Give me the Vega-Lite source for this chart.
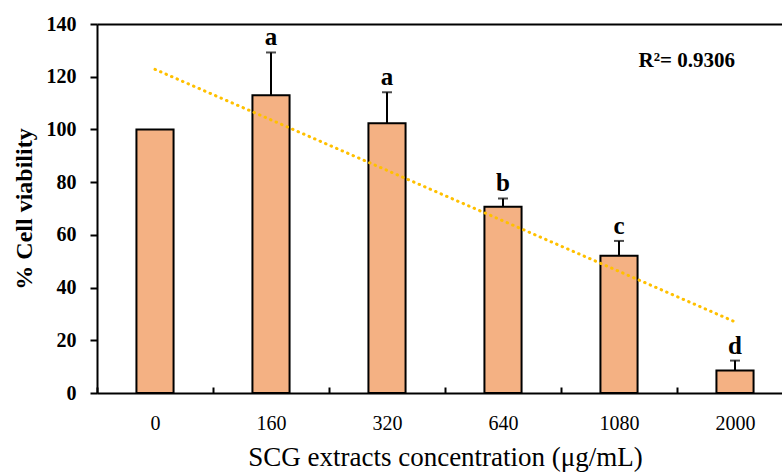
{
  "$schema": "https://vega.github.io/schema/vega-lite/v6.json",
  "width": 685,
  "height": 369,
  "autosize": {"type": "none"},
  "padding": {"left": 97, "top": 24, "right": 0, "bottom": 80},
  "background": "white",
  "config": {"view": {"stroke": null}, "font": "Liberation Serif"},
  "datasets": {
    "bars": [
      {"conc": "0", "value": 100, "hi": null, "letter": ""},
      {"conc": "160", "value": 113, "hi": 129.2, "letter": "a"},
      {"conc": "320", "value": 102.3, "hi": 114.1, "letter": "a"},
      {"conc": "640", "value": 70.7, "hi": 73.8, "letter": "b"},
      {"conc": "1080", "value": 52.1, "hi": 57.7, "letter": "c"},
      {"conc": "2000", "value": 8.5, "hi": 12.3, "letter": "d"}
    ],
    "trend": [
      {"conc": "0", "trend": 122.8},
      {"conc": "2000", "trend": 27.0}
    ],
    "note": [
      {"conc": "2000", "y": 123.7, "label": "R²= 0.9306"}
    ]
  },
  "resolve": {"axis": {"x": "independent"}},
  "layer": [
    {
      "data": {"name": "bars"},
      "mark": {"type": "bar", "fill": "#F4B183", "stroke": "black", "strokeWidth": 2, "width": {"band": 0.32}},
      "encoding": {
        "x": {
          "field": "conc", "type": "nominal", "sort": null,
          "scale": {"domain": ["0", "160", "320", "640", "1080", "2000"], "range": [0, 696], "paddingInner": 0, "paddingOuter": 0},
          "axis": {
            "orient": "bottom", "title": "SCG extracts concentration (μg/mL)", "labelAngle": 0,
            "domainColor": "black", "domainWidth": 2, "tickColor": "black", "tickWidth": 2,
            "tickSize": -6, "tickBand": "extent",
            "labelFont": "Liberation Serif", "labelFontSize": 20, "labelColor": "black", "labelPadding": 26,
            "titleFont": "Liberation Serif", "titleFontSize": 27, "titleFontWeight": "normal", "titleColor": "black", "titlePadding": 11
          }
        },
        "y": {
          "field": "value", "type": "quantitative",
          "scale": {"domain": [0, 140], "nice": false},
          "axis": {
            "orient": "left",
            "title": "% Cell viability", "values": [0, 20, 40, 60, 80, 100, 120, 140], "grid": false,
            "domainColor": "black", "domainWidth": 2, "tickColor": "black", "tickWidth": 2, "tickSize": 7,
            "labelFont": "Liberation Serif", "labelFontSize": 20, "labelFontWeight": "bold", "labelColor": "black", "labelPadding": 14,
            "titleFont": "Liberation Serif", "titleFontSize": 24, "titleFontWeight": "bold", "titleColor": "black", "titlePadding": 10
          }
        }
      }
    },
    {
      "data": {"name": "bars"},
      "transform": [{"filter": "datum.hi != null"}],
      "mark": {"type": "rule", "color": "black", "strokeWidth": 2},
      "encoding": {
        "x": {"field": "conc", "type": "nominal", "sort": null, "axis": null},
        "y": {"field": "value", "type": "quantitative"},
        "y2": {"field": "hi"}
      }
    },
    {
      "data": {"name": "bars"},
      "transform": [{"filter": "datum.hi != null"}],
      "mark": {"type": "tick", "color": "black", "size": 10, "thickness": 2},
      "encoding": {
        "x": {"field": "conc", "type": "nominal", "sort": null,
          "axis": {"orient": "top", "labels": false, "ticks": false, "title": null, "domainColor": "black", "domainWidth": 2}},
        "y": {"field": "hi", "type": "quantitative"}
      }
    },
    {
      "data": {"name": "trend"},
      "mark": {"type": "line", "color": "#FFC000", "strokeWidth": 3, "strokeDash": [0.5, 5.5], "strokeCap": "round"},
      "encoding": {
        "x": {"field": "conc", "type": "nominal", "sort": null, "axis": null},
        "y": {"field": "trend", "type": "quantitative"}
      }
    },
    {
      "data": {"name": "bars"},
      "transform": [{"filter": "datum.hi != null"}],
      "mark": {"type": "text", "fontSize": 25, "fontWeight": "bold", "font": "Liberation Serif", "color": "black", "baseline": "alphabetic", "dy": -7},
      "encoding": {
        "x": {"field": "conc", "type": "nominal", "sort": null, "axis": null},
        "y": {"field": "hi", "type": "quantitative"},
        "text": {"field": "letter"}
      }
    },
    {
      "data": {"name": "note"},
      "mark": {"type": "text", "fontSize": 21, "fontWeight": "bold", "font": "Liberation Serif", "color": "black", "baseline": "alphabetic", "align": "right"},
      "encoding": {
        "x": {"field": "conc", "type": "nominal", "sort": null, "axis": null},
        "y": {"field": "y", "type": "quantitative"},
        "text": {"field": "label"}
      }
    }
  ]
}
